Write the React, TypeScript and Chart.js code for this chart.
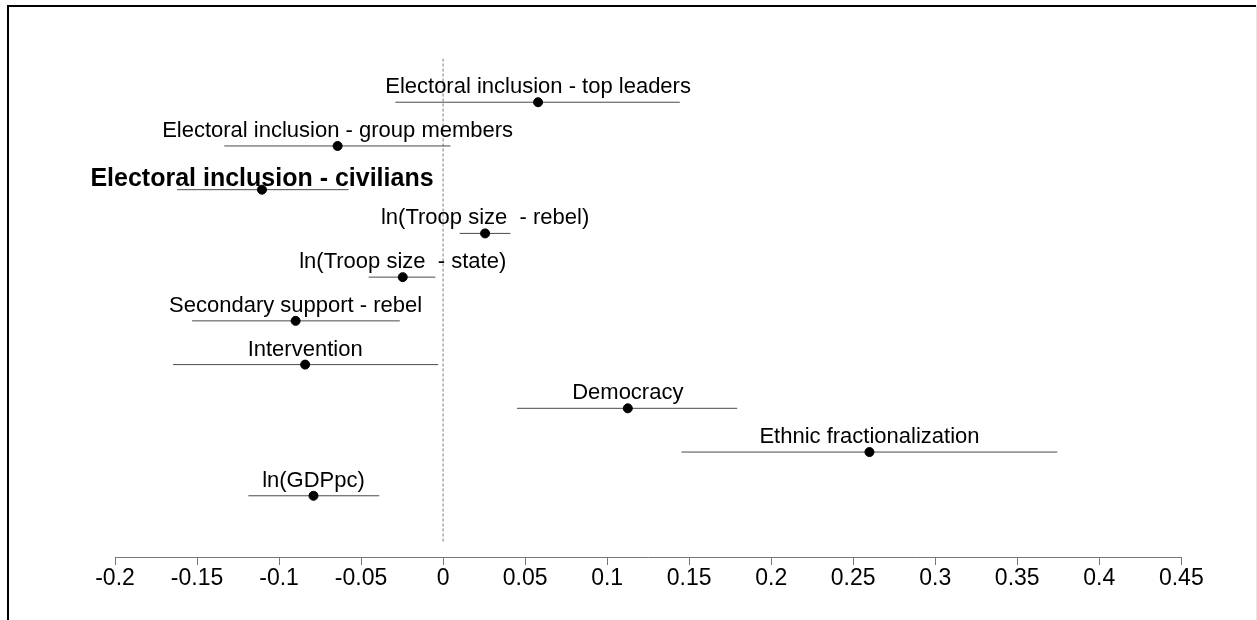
import React, { useEffect, useRef } from "react";
import { Chart, registerables } from "chart.js";

Chart.register(...registerables);

const rowLabels = [
  "Electoral inclusion - top leaders",
  "Electoral inclusion - group members",
  "Electoral inclusion - civilians",
  "ln(Troop size  - rebel)",
  "ln(Troop size  - state)",
  "Secondary support - rebel",
  "Intervention",
  "Democracy",
  "Ethnic fractionalization",
  "ln(GDPpc)",
];
const boldRows = [false, false, true, false, false, false, false, false, false, false];
const estimates = [0.0579, -0.0643, -0.1104, 0.0256, -0.0246, -0.0899, -0.0841, 0.1126, 0.2599, -0.079];
const lowerCI = [-0.0291, -0.1334, -0.1622, 0.0101, -0.0454, -0.153, -0.1646, 0.0451, 0.1453, -0.1187];
const upperCI = [0.1443, 0.0045, -0.0576, 0.041, -0.0047, -0.0264, -0.003, 0.1793, 0.3744, -0.0389];
const xTickValues = [-0.2, -0.15, -0.1, -0.05, 0, 0.05, 0.1, 0.15, 0.2, 0.25, 0.3, 0.35, 0.4, 0.45];
const zeroLineSpan = [0, 11.07];

const FONT = "'Liberation Sans', Arial, Helvetica, sans-serif";

const framePlugin = {
  id: "frame",
  beforeDraw(chart: any) {
    const ctx = chart.ctx;
    ctx.save();
    ctx.fillStyle = "#ffffff";
    ctx.fillRect(0, 0, chart.width, chart.height);
    ctx.restore();
  },
  afterDraw(chart: any) {
    const ctx = chart.ctx;
    ctx.save();
    ctx.fillStyle = "#000000";
    ctx.fillRect(7, 5, 2, chart.height - 5);
    ctx.fillRect(7, 5, chart.width - 8, 2);
    ctx.fillStyle = "#e6e6e6";
    ctx.fillRect(chart.width - 1, 5, 1, chart.height - 5);
    ctx.restore();
  },
};

const labelPlugin = {
  id: "rowLabels",
  afterDatasetsDraw(chart: any) {
    const ctx = chart.ctx;
    const xs = chart.scales.x;
    const ys = chart.scales.y;
    ctx.save();
    ctx.fillStyle = "#000000";
    ctx.textAlign = "center";
    ctx.textBaseline = "alphabetic";
    rowLabels.forEach((lab, i) => {
      const x = xs.getPixelForValue(estimates[i]);
      const y = ys.getPixelForValue(i + 1);
      if (boldRows[i]) {
        ctx.font = `bold 25px ${FONT}`;
        ctx.fillText(lab, x, y - 4);
      } else {
        ctx.font = `22px ${FONT}`;
        ctx.fillText(lab, x, y - 9);
      }
    });
    ctx.restore();
  },
};

export default function App() {
  const ref = useRef<HTMLCanvasElement | null>(null);

  useEffect(() => {
    if (!ref.current) return;
    const ciDatasets = rowLabels.map((lab, i) => ({
      type: "line" as const,
      label: lab + " CI",
      data: [
        { x: lowerCI[i], y: i + 1 },
        { x: upperCI[i], y: i + 1 },
      ],
      borderColor: "#4a4a4a",
      borderWidth: 1,
      pointRadius: 0,
      fill: false,
      order: 1,
    }));
    const chart = new Chart(ref.current, {
      type: "scatter",
      data: {
        datasets: [
          {
            type: "scatter" as const,
            label: "Estimates",
            data: estimates.map((v, i) => ({ x: v, y: i + 1 })),
            backgroundColor: "#000000",
            borderColor: "#000000",
            pointRadius: 4.5,
            pointHoverRadius: 4.5,
            order: 0,
          },
          ...ciDatasets,
          {
            type: "line" as const,
            label: "zero",
            data: zeroLineSpan.map((y) => ({ x: 0, y })),
            borderColor: "#7a7a7a",
            borderWidth: 1,
            borderDash: [3, 2],
            pointRadius: 0,
            fill: false,
            order: 2,
          },
        ] as any,
      },
      options: {
        responsive: false,
        animation: false,
        layout: { padding: { left: 115, right: 75.7, top: 58.5, bottom: 0 } },
        plugins: {
          legend: { display: false },
          tooltip: { enabled: false },
        },
        scales: {
          x: {
            type: "linear",
            position: "bottom",
            min: -0.2,
            max: 0.45,
            afterBuildTicks: (scale: any) => {
              scale.ticks = xTickValues.map((v) => ({ value: v }));
            },
            afterFit: (scale: any) => {
              scale.height = 63;
            },
            ticks: {
              autoSkip: false,
              maxRotation: 0,
              padding: 0,
              color: "#000000",
              font: { family: FONT, size: 23 },
              callback: (v: any) => String(Math.round(Number(v) * 100) / 100),
            },
            grid: {
              display: true,
              drawOnChartArea: false,
              drawTicks: true,
              tickLength: 8,
              color: "#777777",
              lineWidth: 1,
            },
            border: { display: true, color: "#777777", width: 1 },
          },
          y: {
            type: "linear",
            display: false,
            reverse: true,
            min: 0,
            max: 11.4,
          },
        },
      },
      plugins: [framePlugin, labelPlugin],
    });
    return () => chart.destroy();
  }, []);

  return (
    <div style={{ position: "absolute", left: 0, top: 0, width: 1257, height: 620 }}>
      <canvas ref={ref} width={1257} height={620} style={{ display: "block" }} />
    </div>
  );
}
